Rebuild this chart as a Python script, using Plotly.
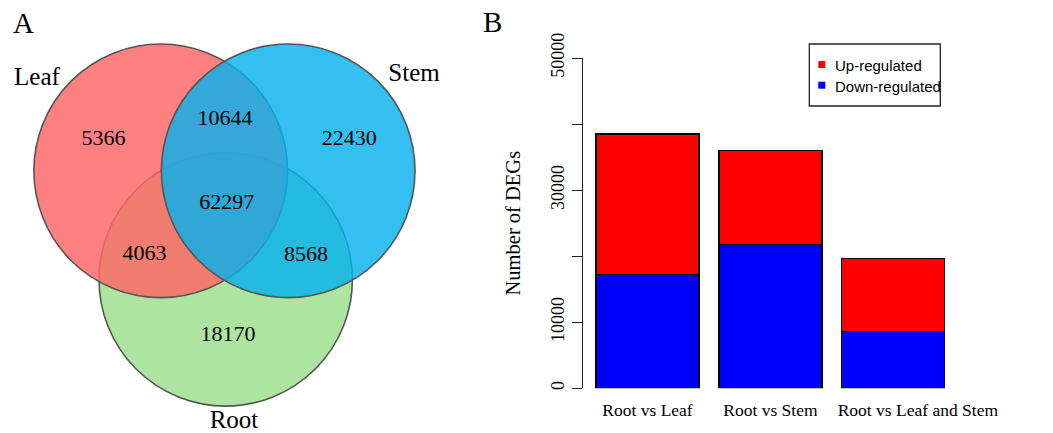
import plotly.graph_objects as go

W, H = 1053, 433

# ---------------- data ----------------
# Panel A: Venn diagram
set_names = ["Leaf", "Stem", "Root"]
region_names = ["Leaf only", "Leaf & Stem", "Stem only", "Leaf & Stem & Root",
                "Leaf & Root", "Stem & Root", "Root only"]
region_counts = [5366, 10644, 22430, 62297, 4063, 8568, 18170]

# Panel B: stacked bars
comparisons = ["Root vs Leaf", "Root vs Stem", "Root vs Leaf and Stem"]
down_regulated = [17200, 21800, 8600]
up_regulated = [21300, 14200, 11000]
y_tickvals = [0, 10000, 20000, 30000, 40000, 50000]
y_ticktext = ["0", "10000", "", "30000", "", "50000"]

# ---------------- layout constants (pixels) ----------------
SERIF = "Liberation Serif, Times New Roman, serif"
SANS = "Liberation Sans, Arial, sans-serif"

circle_geom = {  # center x, center y, radius
    "Leaf": (160.7, 170.8, 126.8),
    "Stem": (288.2, 170.8, 126.8),
    "Root": (225.7, 279.4, 126.7),
}
circle_fill = {
    "Root": "rgb(173,229,160)",
    "Leaf": "rgba(255,102,102,0.83)",
    "Stem": "rgba(6,177,237,0.82)",
}
draw_order = ["Root", "Leaf", "Stem"]
set_label_pos = {"Leaf": (37, 79), "Stem": (414, 75), "Root": (234, 422)}
region_label_pos = [(103.5, 139), (225, 119.5), (349.3, 139), (226.7, 203),
                    (144.5, 254.5), (306, 255), (228, 335)]

def px(x):
    return x / W

def py(y):
    return 1 - y / H

fig = go.Figure()

# Venn counts
fig.add_trace(go.Scatter(
    x=[p[0] for p in region_label_pos], y=[p[1] for p in region_label_pos],
    text=[str(c) for c in region_counts], customdata=region_names,
    mode="text", textposition="middle center",
    textfont=dict(family=SERIF, size=22, color="black"),
    hovertemplate="%{customdata}: %{text}<extra></extra>",
    showlegend=False, xaxis="x", yaxis="y"))

# Venn set names
fig.add_trace(go.Scatter(
    x=[set_label_pos[n][0] for n in set_names], y=[set_label_pos[n][1] for n in set_names],
    text=set_names, mode="text", textposition="middle center",
    textfont=dict(family=SERIF, size=25, color="black"),
    hoverinfo="skip", showlegend=False, xaxis="x", yaxis="y"))

# Bars
bar_x = list(range(len(comparisons)))
fig.add_trace(go.Bar(
    x=bar_x, y=down_regulated, name="Down-regulated", width=0.838,
    marker=dict(color="#0000FF", line=dict(color="black", width=1.2)),
    customdata=comparisons, hovertemplate="%{customdata}<br>Down: %{y}<extra></extra>",
    showlegend=False, xaxis="x2", yaxis="y2"))
fig.add_trace(go.Bar(
    x=bar_x, y=up_regulated, name="Up-regulated", width=0.838,
    marker=dict(color="#FF0000", line=dict(color="black", width=1.2)),
    customdata=comparisons, hovertemplate="%{customdata}<br>Up: %{y}<extra></extra>",
    showlegend=False, xaxis="x2", yaxis="y2"))

shapes = []
for n in draw_order:
    cx, cy, r = circle_geom[n]
    shapes.append(dict(type="circle", xref="x", yref="y",
                       x0=cx - r, x1=cx + r, y0=cy - r, y1=cy + r,
                       fillcolor=circle_fill[n], line=dict(color="#555555", width=1.6),
                       layer="below"))

# manual legend (R style)
shapes.append(dict(type="rect", xref="paper", yref="paper",
                   x0=px(809.3), x1=px(940.3), y0=py(106), y1=py(44),
                   line=dict(color="#222222", width=1.3), fillcolor="rgba(0,0,0,0)"))
legend_items = [("Up-regulated", "#FF0000", 64.5), ("Down-regulated", "#0000FF", 85.2)]
annotations = []
for label, col, yc in legend_items:
    shapes.append(dict(type="rect", xref="paper", yref="paper",
                       x0=px(818.3), x1=px(825.3), y0=py(yc + 3.5), y1=py(yc - 3.5),
                       line=dict(width=0), fillcolor=col))
    annotations.append(dict(text=label, xref="paper", yref="paper",
                            x=px(833), y=py(yc + 1), xanchor="left", yanchor="middle",
                            showarrow=False, font=dict(family=SANS, size=15, color="black")))

annotations.append(dict(text="A", xref="paper", yref="paper", x=px(23.5), y=py(23),
                        xanchor="center", yanchor="middle", showarrow=False,
                        font=dict(family=SERIF, size=29, color="black")))
annotations.append(dict(text="B", xref="paper", yref="paper", x=px(492), y=py(22),
                        xanchor="center", yanchor="middle", showarrow=False,
                        font=dict(family=SERIF, size=29, color="black")))

px_per_bar = 122.9
bar1_center = 647.5
x2_left = 582.7
x2_range = [(x2_left - bar1_center) / px_per_bar, (W - bar1_center) / px_per_bar]

fig.update_layout(
    width=W, height=H, margin=dict(l=0, r=0, t=0, b=0, pad=0, autoexpand=False),
    paper_bgcolor="white", plot_bgcolor="rgba(0,0,0,0)",
    barmode="stack", showlegend=False,
    shapes=shapes, annotations=annotations,
    xaxis=dict(domain=[0, 1], range=[0, W], visible=False, fixedrange=True, automargin=False),
    yaxis=dict(domain=[0, 1], range=[H, 0], visible=False, fixedrange=True, automargin=False),
    xaxis2=dict(domain=[px(x2_left), 1], range=x2_range, anchor="y2", automargin=False,
                tickvals=[0, 1, 2.2], ticktext=comparisons,
                showline=False, showgrid=False, zeroline=False, ticks="outside",
                ticklen=6, tickcolor="rgba(0,0,0,0)",
                tickfont=dict(family=SERIF, size=17.5, color="black")),
    yaxis2=dict(domain=[py(388.3), py(58)], range=[0, 50000], anchor="x2", automargin=False,
                tickvals=y_tickvals, ticktext=y_ticktext, tickangle=-90,
                showline=True, linecolor="#222222", linewidth=1.3,
                ticks="outside", ticklen=10, tickwidth=1.3, tickcolor="#222222",
                showgrid=False, zeroline=False,
                tickfont=dict(family=SERIF, size=18, color="black"),
                title=dict(text="Number of DEGs", standoff=22,
                           font=dict(family=SERIF, size=20.5, color="black"))),
)

fig.write_html("out.html")
